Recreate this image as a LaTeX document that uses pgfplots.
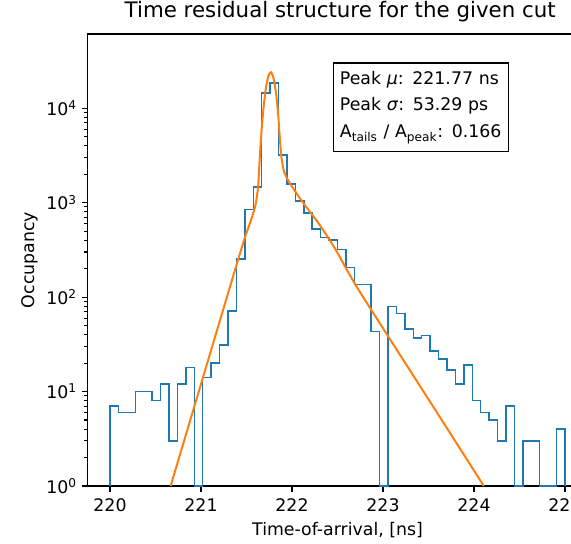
\documentclass[border=0pt]{standalone}
\usepackage{pgfplots}
\pgfplotsset{compat=1.18}
\usepackage{fontspec}
\setmainfont{DejaVu Sans}
\definecolor{tabblue}{HTML}{1F77B4}
\definecolor{taborange}{HTML}{FF7F0E}
\begin{document}
\begin{tikzpicture}
\begin{axis}[
  name=ax,
  scale only axis,
  clip=false,
  width=362.8pt, height=339pt,
  xmin=219.75, xmax=225.066,
  ymode=log, ymin=1, ymax=6.1e4,
  axis x line*=bottom, axis y line*=left,
  axis line style={line width=0.8pt, -},
  xtick={220,221,222,223,224,225},
  xticklabels={220,221,222,223,224,225},
  ytick={1,10,100,1000,10000},
  yticklabels={10\textsuperscript{0},10\textsuperscript{1},10\textsuperscript{2},10\textsuperscript{3},10\textsuperscript{4}},
  /pgf/number format/assume math mode=true,
  tick align=outside,
  xtick pos=bottom, ytick pos=left,
  major tick length=4.3pt, minor tick length=2.5pt,
  every tick/.style={black, line width=0.8pt},
  tick label style={font=\fontsize{13}{15}\selectfont},
  xticklabel style={anchor=base, yshift=-15pt},
  yticklabel style={anchor=east},
  title={Time residual structure for the given cut},
  title style={at={(axis description cs:0.5,1)}, anchor=base, xshift=8.3pt, yshift=6pt, font=\fontsize{16}{19}\selectfont},
  xlabel={Time-of-arrival, [ns]},
  every axis x label/.style={at={(axis description cs:0.5,0)}, anchor=base, xshift=6.3pt, yshift=-37pt, font=\fontsize{13}{15}\selectfont},
  ylabel={Occupancy},
  every axis y label/.style={at={(axis description cs:-0.1188,0.5)}, rotate=90, anchor=center, font=\fontsize{13}{15}\selectfont},
]
\addplot[const plot mark left, tabblue, line width=1.1pt] coordinates {
(220.0000,1)
(220.0000,7) (220.0926,6) (220.1852,6) (220.2778,10) (220.3704,10)
(220.4630,8) (220.5556,12) (220.6481,3) (220.7407,12) (220.8333,18)
(220.9259,1) (221.0185,14) (221.1111,20) (221.2037,31) (221.2963,71)
(221.3889,252) (221.4815,847) (221.5741,1470) (221.6667,14500) (221.7593,18400)
(221.8519,3184) (221.9444,1570) (222.0370,1038) (222.1296,780) (222.2222,525)
(222.3148,430) (222.4074,400) (222.5000,320) (222.5926,206) (222.6852,136)
(222.7778,136) (222.8704,43) (222.9630,1) (223.0556,80) (223.1481,67)
(223.2407,46) (223.3333,37) (223.4259,39) (223.5185,27) (223.6111,22)
(223.7037,17) (223.7963,12) (223.8889,19) (223.9815,8) (224.0741,6)
(224.1667,5) (224.2593,3) (224.3519,7) (224.4444,1) (224.5370,3)
(224.6296,3) (224.7222,1) (224.8148,1) (224.9074,4)
(225.0000,1)
};
\addplot[taborange, line width=1.5pt, smooth, tension=0.4] coordinates {
(220.666,1) (221.00,12) (221.34,151) (221.479,418) (221.542,620)
(221.597,930) (221.627,1450) (221.644,2800) (221.663,5400) (221.688,10300)
(221.715,16800) (221.743,22300) (221.770,24000) (221.798,20600) (221.825,14300)
(221.847,8800) (221.865,5000) (221.883,3050) (221.909,2200) (221.946,1800)
(222.001,1470) (222.111,1030) (222.294,600) (222.478,320) (222.735,118)
(223.634,5.2) (224.108,1)
};
\draw[black, line width=0.8pt] (rel axis cs:0,1) -- (rel axis cs:1.02,1);
\node[draw=black, line width=0.9pt, fill=white, anchor=north west,
  inner xsep=5pt, inner ysep=0pt, text width=121.6pt, minimum height=66.5pt,
  align=left, font=\fontsize{13}{19.9}\selectfont]
  at (axis cs:222.447,3.05e4)
  {Peak \textit{μ}: 221.77 ns\\Peak \textit{σ}: 53.29 ps\\A\textsubscript{tails} / A\textsubscript{peak}: 0.166};
\end{axis}
\fill[white] ([shift={(-2.4pt,-0.45pt)}]ax.north east) rectangle ([shift={(3pt,0.45pt)}]ax.south east);
\pgfresetboundingbox
\path[use as bounding box] ([shift={(-65.44pt,-42.75pt)}]ax.south west) rectangle ([shift={(362.8pt,25.5pt)}]ax.north west);
\end{tikzpicture}
\end{document}
